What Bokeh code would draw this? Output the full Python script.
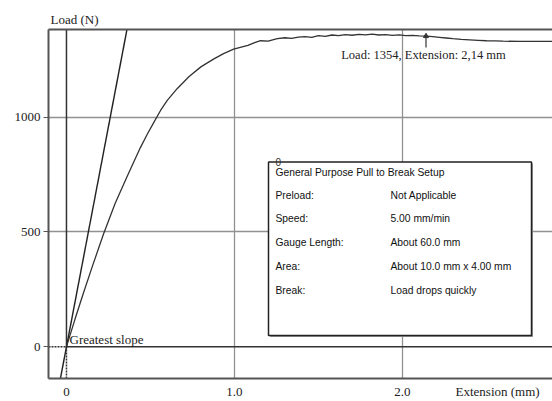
from bokeh.plotting import figure
from bokeh.models import Range1d, FixedTicker, Label, LinearAxis
from bokeh.core.properties import value
from bokeh.embed import file_html
from bokeh.resources import INLINE

# ---------------- data ----------------
extension = [0, 0.05, 0.10, 0.155, 0.22, 0.29, 0.363, 0.44, 0.48, 0.52, 0.56, 0.60, 0.66,
             0.73, 0.80, 0.875, 0.935, 0.995, 1.04, 1.08, 1.12, 1.155, 1.20, 1.255,
             1.30, 1.34, 1.38, 1.42, 1.46, 1.50, 1.54, 1.58, 1.62, 1.66, 1.70, 1.74,
             1.78, 1.82, 1.86, 1.90, 1.94, 1.98, 2.02, 2.06, 2.10, 2.14, 2.18, 2.22,
             2.26, 2.30, 2.35, 2.40, 2.45, 2.50, 2.55, 2.60, 2.70, 2.80, 2.893]
load = [0, 118, 232, 352, 490, 625, 745, 868, 925, 978, 1030, 1074, 1126,
        1178, 1220, 1254, 1278, 1297, 1306, 1314, 1326, 1334, 1332, 1343,
        1347, 1344, 1350, 1352, 1349, 1356, 1353, 1359, 1356, 1361, 1358, 1362,
        1360, 1363, 1359, 1361, 1357, 1360, 1356, 1357, 1355, 1354, 1352, 1349,
        1346, 1343, 1340, 1338, 1336, 1334, 1333, 1332, 1331, 1331, 1331]

slope_ext = [-0.036, 0.36]
slope_load = [-139, 1383]

peak_ext = 2.14
peak_load = 1354

x_ticks = [0, 1, 2]
x_tick_labels = ["0", "1.0", "2.0"]
y_ticks = [0, 500, 1000]
y_tick_labels = ["0", "500", "1000"]
x_title = "Extension (mm)"
x_title_pos = 2.566
y_title = "Load (N)"

setup_title = "General Purpose Pull to Break Setup"
setup_keys = ["Preload:", "Speed:", "Gauge Length:", "Area:", "Break:"]
setup_values = ["Not Applicable", "5.00 mm/min", "About 60.0 mm",
                "About 10.0 mm x 4.00 mm", "Load drops quickly"]

# ---------------- geometry ----------------
W, H = 552, 401
FL, FT, FR, FB = 48, 29, 552, 379
XMIN, XMAX = -0.107, 2.893
YMIN, YMAX = -139, 1383


def px2x(px):
    return XMIN + (px - FL) * (XMAX - XMIN) / (FR - FL)


def py2y(py):
    return YMAX - (py - FT) * (YMAX - YMIN) / (FB - FT)


SERIF = "Liberation Serif"
SANS = "Liberation Sans"

p = figure(width=W, height=H, x_range=Range1d(XMIN, XMAX), y_range=Range1d(YMIN, YMAX),
           output_backend="svg", toolbar_location=None,
           min_border_left=FL, min_border_right=0, min_border_top=FT,
           min_border_bottom=H - FB)
p.outline_line_color = None
p.background_fill_color = "white"
p.border_fill_color = "white"

# title used as the y-axis caption above the frame
p.title.text = y_title
p.title.align = "left"
p.title.offset = 2
p.title.standoff = 6
p.title.text_font = SERIF
p.title.text_font_size = "13px"
p.title.text_font_style = "normal"
p.title.text_color = "#222222"

# x axis (caption placed on the same row as the tick labels)
xa = p.xaxis[0]
xa.ticker = FixedTicker(ticks=x_ticks + [x_title_pos])
ov = {}
for t, l in zip(x_ticks + [x_title_pos], x_tick_labels + [x_title]):
    ov[t] = l
    ov[str(t)] = l
xa.major_label_overrides = ov
xa.axis_line_color = "#555555"
xa.axis_line_width = 2
xa.major_tick_line_color = None
xa.major_tick_out = 0
xa.major_tick_in = 0
xa.minor_tick_line_color = None
xa.major_label_standoff = 5
xa.major_label_text_font = SERIF
xa.major_label_text_font_size = "13px"
xa.major_label_text_color = "#222222"

ya = p.yaxis[0]
ya.ticker = FixedTicker(ticks=y_ticks)
ovy = {}
for t, l in zip(y_ticks, y_tick_labels):
    ovy[t] = l
    ovy[str(t)] = l
ya.major_label_overrides = ovy
ya.axis_line_color = "#555555"
ya.axis_line_width = 2
ya.major_tick_line_color = "#555555"
ya.major_tick_out = 5
ya.major_tick_in = 0
ya.minor_tick_line_color = None
ya.major_label_standoff = 3
ya.major_label_text_font = SERIF
ya.major_label_text_font_size = "13px"
ya.major_label_text_color = "#222222"

top_axis = LinearAxis(ticker=FixedTicker(ticks=[]), axis_line_color="#555555",
                      axis_line_width=2, major_tick_line_color=None,
                      minor_tick_line_color=None, major_label_text_font_size="1px",
                      major_label_standoff=4, major_tick_out=0)
p.add_layout(top_axis, "above")

# grid
p.xgrid.ticker = FixedTicker(ticks=[1, 2])
p.ygrid.ticker = FixedTicker(ticks=[500, 1000])
p.xgrid.grid_line_color = "#919191"
p.ygrid.grid_line_color = "#919191"
p.xgrid.grid_line_width = 1.3
p.ygrid.grid_line_width = 1.3

# zero reference lines
p.line([0, 0], [0, YMAX], line_color="#333333", line_width=1.5)
p.line([0, 0], [YMIN, 0], line_color="#333333", line_width=1.5, line_dash="2 1")
p.line([XMIN, 0], [0, 0], line_color="#333333", line_width=1.5, line_dash="2 1")
p.line([0, XMAX], [0, 0], line_color="#333333", line_width=1.5)

# greatest slope line and curve
p.line(slope_ext, slope_load, line_color="#222222", line_width=1.4)
p.line(extension, load, line_color="#333333", line_width=1.3)

# peak marker
p.segment(x0=[peak_ext], y0=[peak_load], x1=[peak_ext], y1=[py2y(47)],
          line_color="#333333", line_width=1.2)
p.scatter([peak_ext], [peak_load], marker="triangle", size=5,
          fill_color="#333333", line_color="#333333")

# setup box
bl, br, bt, bb = px2x(268), px2x(531), py2y(162), py2y(336)
sx = (XMAX - XMIN) / (FR - FL) * 1.5
sy = (YMAX - YMIN) / (FB - FT) * 1.5
p.quad(left=[bl + sx], right=[br + sx], top=[bt - sy], bottom=[bb - sy],
       fill_color="#9a9a9a", line_color=None)
p.quad(left=[bl], right=[br], top=[bt], bottom=[bb],
       fill_color="white", line_color="#222222", line_width=1.5)

row_y = [py2y(v) for v in (195, 219, 243, 267, 291)]
p.text(x=[px2x(275)], y=[py2y(172)], text=[setup_title],
       text_font=value(SANS), text_font_size="10.3px", text_baseline="middle",
       text_color="#111111")
p.text(x=[px2x(275)] * len(setup_keys), y=row_y, text=setup_keys,
       text_font=value(SANS), text_font_size="10.3px", text_baseline="middle",
       text_color="#111111")
p.text(x=[px2x(390)] * len(setup_values), y=row_y, text=setup_values,
       text_font=value(SANS), text_font_size="10.3px", text_baseline="middle",
       text_color="#111111")
p.add_layout(Label(x=px2x(275), y=py2y(162), text="0", text_font=SANS,
                   text_font_size="10px", text_baseline="middle", text_color="#333333"))

# text labels inside the frame
p.add_layout(Label(x=px2x(69), y=py2y(340), text="Greatest slope", text_font=SERIF,
                   text_font_size="13px", text_baseline="middle", text_color="#222222"))
p.add_layout(Label(x=px2x(423), y=py2y(55), text="Load: 1354, Extension: 2,14 mm",
                   text_font=SERIF, text_font_size="12.5px", text_baseline="middle",
                   text_align="center", text_color="#222222"))

open("out.html", "w").write(file_html(p, INLINE))
